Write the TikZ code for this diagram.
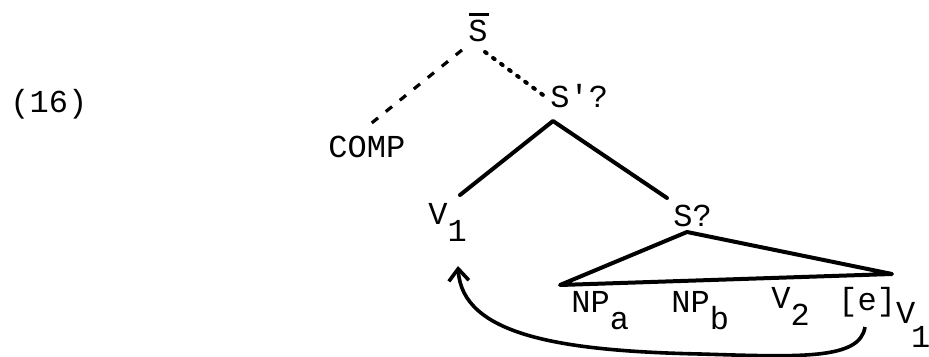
\documentclass[tikz,border=0pt]{standalone}
\usepackage{fontspec}
\usepackage{tikz}
\usetikzlibrary{arrows.meta}
\newfontfamily\tw{Liberation Mono}
\newcommand\lowr[1]{\raisebox{-8.5pt}{#1}}
\newcommand\barS{\rlap{\hspace{0.5pt}\rule[13pt]{10pt}{1.5pt}}S}

\begin{document}
\begin{tikzpicture}[x=0.5pt,y=-0.5pt,
    lbl/.style={anchor=base west,inner sep=0pt,font=\tw\fontsize{16}{19}\selectfont},
    branch/.style={line width=2pt,line cap=round,line join=round},
    dashbranch/.style={line width=1.6pt,dash pattern=on 4pt off 5pt},
    dotbranch/.style={line width=2pt,line cap=round,dash pattern=on 1pt off 4pt},
    move/.style={line width=1.8pt,-{Straight Barb[length=6pt,width=10pt,line width=1.8pt]}}]
    \useasboundingbox (0,0) rectangle (929,357);

    \coordinate (Num) at (10, 113);
    \coordinate (Sbar) at (468, 42);
    \coordinate (Comp) at (328, 158);
    \coordinate (Sp) at (550, 108);
    \coordinate (Vone) at (428, 225);
    \coordinate (Sq) at (673, 227);
    \coordinate (NPa) at (571, 312);
    \coordinate (NPb) at (671, 312);
    \coordinate (Vtwo) at (771, 308);
    \coordinate (Ev) at (838, 310);

    \node[lbl] (num) at (Num) {(16)};
    \node[lbl] (sbar) at (Sbar) {\barS};
    \node[lbl] (comp) at (Comp) {COMP};
    \node[lbl] (sp) at (Sp) {S'?};
    \node[lbl] (vone) at (Vone) {V\lowr{1}};
    \node[lbl] (sq) at (Sq) {S?};
    \node[lbl] (npa) at (NPa) {NP\lowr{a}};
    \node[lbl] (npb) at (NPb) {NP\lowr{b}};
    \node[lbl] (vtwo) at (Vtwo) {V\lowr{2}};
    \node[lbl] (ev) at (Ev) {[e]\raisebox{-6.5pt}{V\kern-2pt\raisebox{-12pt}{1}}};

    \draw[dashbranch] ([shift={(-6,8)}]sbar.base west) -- ([shift={(40,-32)}]comp.base west);
    \draw[dotbranch] ([shift={(17,10)}]sbar.base west) -- ([shift={(-7,-13)}]sp.base west);

    \draw[branch] ([shift={(32,-30)}]vone.base west) -- ([shift={(3,13)}]sp.base west)
        -- ([shift={(-6,-29)}]sq.base west);
    \draw[branch] ([shift={(14,5)}]sq.base west) -- ([shift={(-11,-27)}]npa.base west)
        -- ([shift={(54,-36)}]ev.base west) -- cycle;

    \draw[move] ([shift={(27,17)}]ev.base west) .. controls (860,360) and (800,357) .. (700,354)
        .. controls (560,351) and (462,335) .. ([shift={(30,41)}]vone.base west);
\end{tikzpicture}
\end{document}
